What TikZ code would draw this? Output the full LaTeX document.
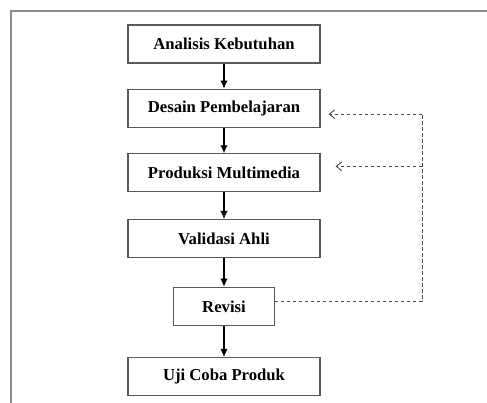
\documentclass[tikz,border=0pt]{standalone}
\usepackage{fontspec}
\setmainfont{Liberation Serif}
\usetikzlibrary{arrows.meta, positioning, calc}
\definecolor{boxEdge}{RGB}{90,90,90}
\definecolor{frameEdge}{RGB}{140,140,140}

\begin{document}
\begin{tikzpicture}[
    stage/.style={rectangle, draw=boxEdge, line width=0.9pt, minimum width=144pt, minimum height=28.5pt, inner sep=0pt, align=center, font=\fontsize{12.5}{15}\selectfont\bfseries},
    arrow/.style={-{Latex[length=6pt, width=5.5pt]}, line width=0.8pt, black},
    dashline/.style={line width=0.7pt, black!70, dash pattern=on 2.5pt off 2pt},
    dasharrow/.style={dashline, -{Straight Barb[length=4pt, width=6.5pt]}}
]

% --- moldura ---
\useasboundingbox (0,0) rectangle (365.25pt,-302.25pt);
\coordinate (frameBL) at (8.25pt,-302.25pt);
\coordinate (frameTL) at (8.25pt,-8.25pt);
\coordinate (frameTR) at (365.25pt,-8.25pt);
\draw[frameEdge, line width=1.1pt] (frameBL) -- (frameTL) -- (frameTR);

% --- Coluna de etapas ---
\node[stage] (analisis) at (168pt,-33pt) {Analisis Kebutuhan};

\node[stage, below=18.75pt of analisis] (desain) {Desain Pembelajaran};

\node[stage, below=19.1pt of desain] (produksi) {Produksi Multimedia};

\node[stage, below=19.9pt of produksi] (validasi) {Validasi Ahli};

\node[stage, minimum width=75.75pt, below=21.4pt of validasi] (revisi) {Revisi};

\node[stage, below=23.25pt of revisi] (uji) {Uji Coba Produk};

% === SETAS ===
\draw[arrow] (analisis) -- (desain);
\draw[arrow] (desain) -- (produksi);
\draw[arrow] (produksi) -- (validasi);
\draw[arrow] (validasi) -- (revisi);
\draw[arrow] (revisi) -- (uji);

% Revisi volta (tracejado, pela direita)
\coordinate (revOut) at ([yshift=3.4pt]revisi.east);
\coordinate (tipDesain) at ([xshift=6pt, yshift=-4.5pt]desain.east);
\coordinate (tipProduksi) at ([xshift=11.25pt, yshift=4.9pt]produksi.east);
\coordinate (railTop) at (316.5pt,0 |- tipDesain);
\coordinate (railMid) at (316.5pt,0 |- tipProduksi);
\coordinate (railBot) at (316.5pt,0 |- revOut);

\draw[dashline] (revOut) -- (railBot) -- (railTop);
\draw[dasharrow] (railTop) -- (tipDesain);
\draw[dasharrow] (railMid) -- (tipProduksi);

\end{tikzpicture}
\end{document}
